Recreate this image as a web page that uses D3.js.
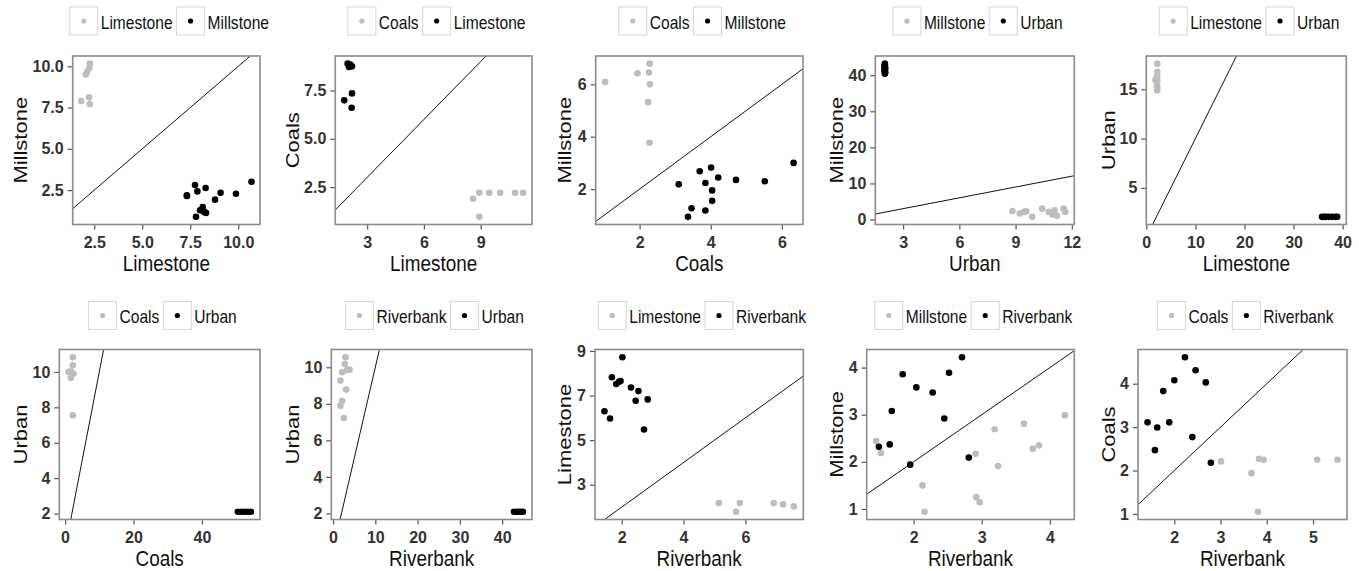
<!DOCTYPE html>
<html><head><meta charset="utf-8">
<script src="https://cdn.jsdelivr.net/npm/d3@7"></script>
<style>
body{margin:0;background:#fff}
text{font-family:"Liberation Sans",Arial,Helvetica,sans-serif}
</style>
</head><body><svg id="c" width="1359" height="571"></svg>
<script>
// ---------- DATA ----------
const xTitles = ["Limestone","Limestone","Coals","Urban","Limestone","Coals","Riverbank","Riverbank","Riverbank","Riverbank"];
const yTitles = ["Millstone","Coals","Millstone","Millstone","Urban","Urban","Urban","Limestone","Millstone","Coals"];
const greyNames  = ["Limestone","Coals","Coals","Millstone","Limestone","Coals","Riverbank","Limestone","Millstone","Coals"];
const blackNames = ["Millstone","Limestone","Millstone","Urban","Urban","Urban","Urban","Riverbank","Riverbank","Riverbank"];

const p1Grey  = [[1.82,7.9],[2.23,8.12],[2.27,7.72],[2.27,10.16],[2.23,9.86],[2.13,9.66],[2.06,9.5]];
const p1Black = [[7.32,2.18],[7.33,2.14],[7.75,2.81],[7.87,2.42],[8.3,2.63],[7.8,0.88],[8.01,1.28],[8.15,1.48],[8.22,1.18],[8.32,1.12],[8.79,1.92],[9.08,2.34],[9.88,2.28],[10.69,3.01]];
const p2Grey  = [[8.6,1.9],[8.93,2.21],[9.45,2.21],[10.03,2.21],[10.82,2.21],[11.24,2.21],[8.93,0.96]];
const p2Black = [[1.97,8.89],[2.11,8.84],[2.2,8.75],[2.04,8.72],[2.2,7.35],[1.79,6.99],[2.18,6.61]];
const p3Grey  = [[1.03,6.09],[1.94,6.42],[2.26,6.45],[2.28,6.79],[2.29,6.0],[2.24,5.32],[2.28,3.77]];
const p3Black = [[3.1,2.18],[3.36,0.94],[3.46,1.27],[3.69,2.68],[3.85,2.23],[3.85,1.18],[4.01,2.82],[4.04,1.95],[4.04,1.55],[4.21,2.44],[4.71,2.35],[5.52,2.3],[6.33,3.0]];
const p4Grey  = [[8.83,2.37],[9.22,1.64],[9.45,2.1],[9.57,2.28],[9.89,0.73],[10.42,3.0],[10.77,2.1],[10.98,1.37],[11.08,2.55],[11.21,1.0],[11.56,3.0],[11.65,2.1]];
const p4Black = [[2.03,43.2],[2.03,42.8],[2.0,42.4],[2.05,42.0],[2.03,41.6],[2.0,41.2],[2.05,40.8],[2.03,40.4]];
const p5Grey  = [[2.24,17.6],[2.24,16.77],[2.2,16.34],[2.24,15.94],[1.85,15.94],[2.2,15.43],[2.24,15.1],[2.2,14.87]];
const p5Black = [[35.8,2.06],[36.3,2.06],[36.6,2.06],[37.2,2.06],[37.9,2.06],[38.6,2.06],[38.9,2.06]];
const p6Grey  = [[2.26,10.83],[0.98,10.0],[1.67,10.04],[2.26,10.38],[2.46,9.9],[1.67,9.66],[2.26,7.55]];
const p6Black = [[50.5,2.1],[51.6,2.1],[52.5,2.1],[53.4,2.1],[54.3,2.1]];
const p7Grey  = [[2.94,10.55],[2.78,10.18],[3.33,9.85],[2.14,9.73],[3.89,9.87],[1.75,9.27],[3.1,8.78],[2.14,8.17],[1.75,7.9],[2.54,7.22]];
const p7Black = [[42.8,2.09],[43.4,2.09],[43.9,2.09],[44.4,2.09],[44.9,2.09]];
const p8Grey  = [[5.14,2.18],[5.7,1.79],[5.82,2.18],[6.92,2.18],[7.22,2.12],[7.57,2.03]];
const p8Black = [[2.02,8.72],[1.68,7.82],[1.82,7.52],[1.91,7.62],[1.96,7.65],[2.3,7.36],[2.54,7.2],[2.45,6.77],[2.84,6.83],[1.44,6.3],[1.62,5.97],[2.72,5.48]];
const p9Grey  = [[1.45,2.44],[1.52,2.19],[2.13,1.5],[2.16,0.94],[2.91,2.17],[2.92,1.25],[2.97,1.14],[3.19,2.69],[3.24,1.91],[3.62,2.81],[3.75,2.28],[3.84,2.35],[4.22,2.99]];
const p9Black = [[2.71,4.22],[1.84,3.86],[2.52,3.89],[2.04,3.58],[2.28,3.47],[1.68,3.08],[2.45,2.92],[1.65,2.37],[1.49,2.32],[1.95,1.94],[2.81,2.09]];
const p10Grey  = [[3.01,2.21],[3.67,1.94],[3.83,2.27],[3.93,2.25],[5.09,2.25],[5.53,2.25],[3.81,1.05]];
const p10Black = [[2.23,4.61],[2.46,4.31],[2.0,4.08],[2.68,4.03],[1.76,3.83],[1.42,3.11],[1.89,3.11],[1.63,2.99],[2.39,2.77],[1.58,2.47],[2.79,2.18]];

const xTickVals = [[2.5,5,7.5,10],[3,6,9],[2,4,6],[3,6,9,12],[0,10,20,30,40],[0,20,40],[0,10,20,30,40],[2,4,6],[2,3,4],[2,3,4,5]];
const xTickLabels = [["2.5","5.0","7.5","10.0"],["3","6","9"],["2","4","6"],["3","6","9","12"],["0","10","20","30","40"],["0","20","40"],["0","10","20","30","40"],["2","4","6"],["2","3","4"],["2","3","4","5"]];
const yTickVals = [[2.5,5,7.5,10],[2.5,5,7.5],[2,4,6],[0,10,20,30,40],[5,10,15],[2,4,6,8,10],[2,4,6,8,10],[3,5,7,9],[1,2,3,4],[1,2,3,4]];
const yTickLabels = [["2.5","5.0","7.5","10.0"],["2.5","5.0","7.5"],["2","4","6"],["0","10","20","30","40"],["5","10","15"],["2","4","6","8","10"],["2","4","6","8","10"],["3","5","7","9"],["1","2","3","4"],["1","2","3","4"]];

const greySets  = [p1Grey,p2Grey,p3Grey,p4Grey,p5Grey,p6Grey,p7Grey,p8Grey,p9Grey,p10Grey];
const blackSets = [p1Black,p2Black,p3Black,p4Black,p5Black,p6Black,p7Black,p8Black,p9Black,p10Black];

// ---------- LAYOUT ----------
const colOffset = [0,272,544,816,1088];
const boxLeft  = [72.7,335.3,595.7,875.3,1146.3,59.3,331.3,595,866.7,1138];
const boxRight = [260,532,803,1074.3,1346.3,260,532,803.3,1074.3,1347];
const rowTop = [56,349.5], rowBottom = [224.5,519.5];
const legendCY = [21,315.5];
const GREY = "#bdbdbd";

const svg = d3.select("#c");

function htext(g, x, y, s, size, anchor, sx, fill){
  return g.append("text").attr("transform",`translate(${x},${y}) scale(${sx},1)`)
    .attr("text-anchor",anchor).style("font-size",size+"px").attr("fill",fill||"#111").text(s);
}
function vtext(g, x, y, s, size, sy, fill){
  return g.append("text").attr("transform",`translate(${x},${y}) rotate(-90) scale(1,${sy})`)
    .attr("text-anchor","middle").style("font-size",size+"px").attr("fill",fill||"#111").text(s);
}

for(let i=0;i<10;i++){
  const row = i<5?0:1, col=i%5;
  const L=boxLeft[i], R=boxRight[i], T=rowTop[row], B=rowBottom[row];
  const g = svg.append("g");
  const all = greySets[i].concat(blackSets[i]);
  const xe = d3.extent(all,d=>d[0]), ye = d3.extent(all,d=>d[1]);
  const xr = xe[1]-xe[0], yr = ye[1]-ye[0];
  const x = d3.scaleLinear().domain([xe[0]-0.05*xr, xe[1]+0.05*xr]).range([L,R]);
  const y = d3.scaleLinear().domain([ye[0]-0.05*yr, ye[1]+0.05*yr]).range([B,T]);

  // axes
  const ax = g.append("g").attr("transform",`translate(0,${B})`)
    .call(d3.axisBottom(x).tickValues(xTickVals[i]).tickFormat((d,k)=>xTickLabels[i][k]).tickSize(5).tickPadding(7.3));
  const ay = g.append("g").attr("transform",`translate(${L},0)`)
    .call(d3.axisLeft(y).tickValues(yTickVals[i]).tickFormat((d,k)=>yTickLabels[i][k]).tickSize(5).tickPadding(4));
  [ax,ay].forEach(a=>{
    a.select(".domain").remove();
    a.selectAll(".tick line").attr("stroke","#555").attr("stroke-width",1.2);
    a.selectAll(".tick text").attr("fill","#333").style("font-size","16px").style("font-weight","bold")
      .style("font-family",'"Liberation Sans",Arial,sans-serif');
  });

  // points
  g.append("g").selectAll("circle").data(greySets[i]).join("circle")
    .attr("cx",d=>x(d[0])).attr("cy",d=>y(d[1])).attr("r",3.3).attr("fill",GREY);
  g.append("g").selectAll("circle").data(blackSets[i]).join("circle")
    .attr("cx",d=>x(d[0])).attr("cy",d=>y(d[1])).attr("r",3.3).attr("fill","#000");

  // y = x reference line
  const lo = Math.max(x.domain()[0], y.domain()[0]);
  const hi = Math.min(x.domain()[1], y.domain()[1]);
  g.append("line").attr("x1",x(lo)).attr("y1",y(lo)).attr("x2",x(hi)).attr("y2",y(hi))
    .attr("stroke","#111").attr("stroke-width",1);

  // border
  g.append("rect").attr("x",L).attr("y",T).attr("width",R-L).attr("height",B-T)
    .attr("fill","none").attr("stroke","#8c8c8c").attr("stroke-width",1.6);

  // titles
  htext(g,(L+R)/2,B+46.5,xTitles[i],22,"middle",0.86,"#111");
  vtext(g,colOffset[col]+27,(T+B)/2,yTitles[i],22,0.86,"#111");

  // legend
  const lg = g.append("g");
  const cy = legendCY[row];
  const t1 = htext(lg,0,cy+7.5,greyNames[i],17.5,"start",0.89,"#111");
  const t2 = htext(lg,0,cy+7.5,blackNames[i],17.5,"start",0.89,"#111");
  const w1 = t1.node().getComputedTextLength()*0.89, w2 = t2.node().getComputedTextLength()*0.89;
  const total = 28+3+w1+4+28+3+w2;
  const sx = (L+R)/2 + 3 - total/2;
  const k1 = sx, k2 = sx+28+3+w1+4;
  lg.insert("rect","text").attr("x",k1).attr("y",cy-14).attr("width",28).attr("height",28).attr("fill","#fff").attr("stroke","#d6d6d6").attr("stroke-width",1);
  lg.insert("rect","text").attr("x",k2).attr("y",cy-14).attr("width",28).attr("height",28).attr("fill","#fff").attr("stroke","#d6d6d6").attr("stroke-width",1);
  lg.append("circle").attr("cx",k1+14).attr("cy",cy).attr("r",2.6).attr("fill",GREY);
  lg.append("circle").attr("cx",k2+14).attr("cy",cy).attr("r",2.6).attr("fill","#000");
  t1.attr("transform",`translate(${k1+31},${cy+7.5}) scale(0.89,1)`);
  t2.attr("transform",`translate(${k2+31},${cy+7.5}) scale(0.89,1)`);
}
</script></body></html>
